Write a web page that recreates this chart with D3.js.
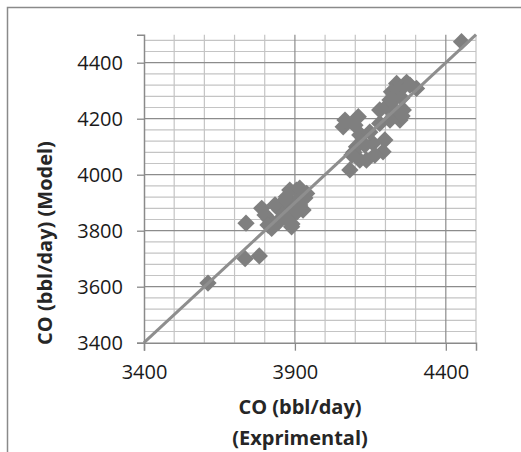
<!DOCTYPE html>
<html><head><meta charset="utf-8">
<script src="https://cdn.jsdelivr.net/npm/d3@7"></script>
<style>body{margin:0;background:#fff}svg{display:block}</style>
</head><body>
<svg id="c" width="521" height="452"></svg>
<script>
const expX = [3612,3735,3782,3738,3790,3823,3850,3889,3872,3905,3939,3927,3860,3815,3880,3900,3895,3845,3910,3920,
  3801,3834,3867,3883,3916,3933,3916,3877,3844,3890,3811,3907,
  4060,4110,4104,4192,4082,4159,4137,4181,4237,4220,4303,4248,4259,4203,4270,4120,4095,4230,4255,
  4066,4099,4115,4132,4148,4165,4115,4089,4198,4181,4215,4231,4248,4281,4254,4215,
  4452];
const modelY = [3613,3700,3710,3827,3880,3808,3874,3814,3921,3945,3933,3874,3850,3840,3900,3880,3860,3830,3905,3920,
  3856,3892,3910,3945,3952,3917,3892,3856,3831,3824,3820,3867,
  4171,4207,4100,4082,4017,4112,4052,4183,4326,4296,4308,4195,4231,4243,4330,4140,4080,4270,4210,
  4195,4177,4142,4106,4152,4070,4052,4070,4124,4231,4267,4231,4302,4320,4274,4195,
  4475];
const xTicks = [3400,3900,4400];
const yTicks = [3400,3600,3800,4000,4200,4400];
const xLabel1 = "CO (bbl/day)", xLabel2 = "(Exprimental)", yLabel = "CO (bbl/day) (Model)";

const svg = d3.select("#c");
const x = d3.scaleLinear().domain([3400,4500]).range([144,476]);
const y = d3.scaleLinear().domain([3400,4500]).range([342.7,34.7]);

// outer frame (left and top)
svg.append("path").attr("d","M7.5,452 L7.5,7.5 L521,7.5").attr("fill","none").attr("stroke","#8a8a8a").attr("stroke-width",1.5);

// minor gridlines
const xMinor = d3.range(3500,4501,100), yMinor = d3.range(3440,4500,40);
svg.append("g").selectAll("line").data(yMinor.filter(v=>(v-3400)%200!==0)).join("line")
  .attr("x1",x(3400)).attr("x2",x(4500)).attr("y1",d=>y(d)).attr("y2",d=>y(d)).attr("stroke","#c4c4c4").attr("stroke-width",1.2);
svg.append("g").selectAll("line").data(xMinor.filter(v=>(v-3400)%500!==0)).join("line")
  .attr("y1",y(3400)).attr("y2",y(4500)).attr("x1",d=>x(d)).attr("x2",d=>x(d)).attr("stroke","#c4c4c4").attr("stroke-width",1.2);
// major gridlines
svg.append("g").selectAll("line").data(yTicks.slice(1)).join("line")
  .attr("x1",x(3400)).attr("x2",x(4500)).attr("y1",d=>y(d)).attr("y2",d=>y(d)).attr("stroke","#8c8c8c").attr("stroke-width",1.2);
svg.append("g").selectAll("line").data(xTicks.slice(1)).join("line")
  .attr("y1",y(3400)).attr("y2",y(4500)).attr("x1",d=>x(d)).attr("x2",d=>x(d)).attr("stroke","#8c8c8c").attr("stroke-width",1.2);

// axes
const fontF = "'Open Sans', sans-serif";
const xAxis = svg.append("g").attr("transform",`translate(0,${y(3400)})`)
  .call(d3.axisBottom(x).tickValues(xTicks).tickSize(8).tickPadding(14).tickFormat(d3.format("d")));
const yAxis = svg.append("g").attr("transform",`translate(${x(3400)},0)`)
  .call(d3.axisLeft(y).tickValues(yTicks).tickSize(7).tickPadding(14).tickFormat(d3.format("d")));
[xAxis,yAxis].forEach(g=>{
  g.select(".domain").attr("stroke","#8a8a8a").attr("stroke-width",1.5);
  g.selectAll(".tick line").attr("stroke","#8a8a8a").attr("stroke-width",1.3);
  g.selectAll("text").attr("font-family",fontF).attr("font-size",20).attr("fill","#1a1a1a");
});

// points (diamond markers)
svg.append("g").selectAll("path").data(expX.map((v,i)=>[v,modelY[i]])).join("path")
  .attr("d",d3.symbol().type(d3.symbolSquare).size(150))
  .attr("transform",d=>`translate(${x(d[0])},${y(d[1])}) rotate(45)`)
  .attr("fill","#7f7f7f");

// y = x line
svg.append("line").attr("x1",x(3400)).attr("y1",y(3400)).attr("x2",x(4500)).attr("y2",y(4500))
  .attr("stroke","#8e8e8e").attr("stroke-width",3);

// titles
svg.append("text").attr("x",300).attr("y",414).attr("text-anchor","middle").attr("font-family",fontF)
  .attr("font-weight","bold").attr("font-size",20).attr("fill","#262626").text(xLabel1);
svg.append("text").attr("x",300).attr("y",445).attr("text-anchor","middle").attr("font-family",fontF)
  .attr("font-weight","bold").attr("font-size",20).attr("fill","#262626").text(xLabel2);
svg.append("text").attr("transform","translate(52,243) rotate(-90)").attr("text-anchor","middle").attr("font-family",fontF)
  .attr("font-weight","bold").attr("font-size",20).attr("fill","#262626").text(yLabel);
</script>
</body></html>
